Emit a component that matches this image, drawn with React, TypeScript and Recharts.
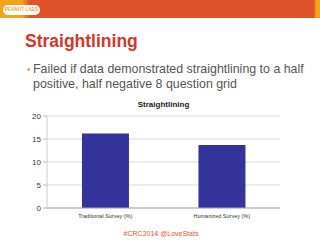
import React from "react";
import { BarChart, Bar, XAxis, YAxis, CartesianGrid } from "recharts";

const categories = ["Traditional Survey (%)", "Humanized Survey (%)"];
const values = [16.2, 13.7];
const yTicks = [0, 5, 10, 15, 20];

const data = categories.map((c, i) => ({ name: c, value: values[i] }));

export default function App() {
  return (
    <div style={{ position: "absolute", left: 0, top: 0, width: 320, height: 240, background: "#fff", overflow: "hidden", fontFamily: "'Liberation Sans', Arial, sans-serif" }}>
      {/* header band */}
      <div style={{ position: "absolute", left: 0, top: 0, width: 320, height: 18, background: "linear-gradient(to right, #f5a21c 0px, #f5a21c 22px, #e0532a 30px, #e0532a 314px, #f5a21c 316px)" }} />
      <div style={{ position: "absolute", left: 3, top: 5, width: 37, height: 10, borderRadius: 5, background: "#fff", color: "#f0a030", fontSize: 4.5, fontWeight: 700, lineHeight: "10px", textAlign: "center", letterSpacing: 0.1 }}>PEANUT LABS</div>
      {/* title */}
      <div style={{ position: "absolute", left: 25, top: 31, fontSize: 17.5, fontWeight: 700, color: "#d0382b", whiteSpace: "nowrap" }}>Straightlining</div>
      {/* bullet */}
      <div style={{ position: "absolute", left: 27, top: 62, fontSize: 12.4, color: "#555", lineHeight: "15px", whiteSpace: "nowrap" }}>
        <span style={{ color: "#f0a030", fontSize: 10, position: "absolute", left: 0, top: 0 }}>•</span>
        <div style={{ marginLeft: 6 }}>Failed if data demonstrated straightlining to a half</div>
        <div style={{ marginLeft: 6 }}>positive, half negative 8 question grid</div>
      </div>
      {/* chart title */}
      <div style={{ position: "absolute", left: 0, width: 327, top: 100, textAlign: "center", fontSize: 8, fontWeight: 700, color: "#222" }}>Straightlining</div>
      <div style={{ position: "absolute", left: 0, top: 0 }}>
        <BarChart width={320} height={240} data={data} margin={{ top: 116, right: 40, bottom: 18, left: 27 }} barCategoryGap="30%">
          <CartesianGrid vertical={false} stroke="#d9d9d9" strokeWidth={1} />
          <XAxis dataKey="name" height={14} tick={{ fontSize: 5.5, fill: "#333" }} tickLine={false} axisLine={{ stroke: "#aaa" }} interval={0} tickMargin={0} />
          <YAxis width={20} domain={[0, 20]} ticks={yTicks} tick={{ fontSize: 8, fill: "#333" }} tickSize={4} tickLine={{ stroke: "#bbb" }} axisLine={{ stroke: "#ccc" }} />
          <Bar dataKey="value" fill="#333399" isAnimationActive={false} />
        </BarChart>
      </div>
      {/* footer */}
      <div style={{ position: "absolute", left: 0, width: 322, top: 230, textAlign: "center", fontSize: 7, color: "#e0553a" }}>#CRC2014 @LoveStats</div>
    </div>
  );
}
